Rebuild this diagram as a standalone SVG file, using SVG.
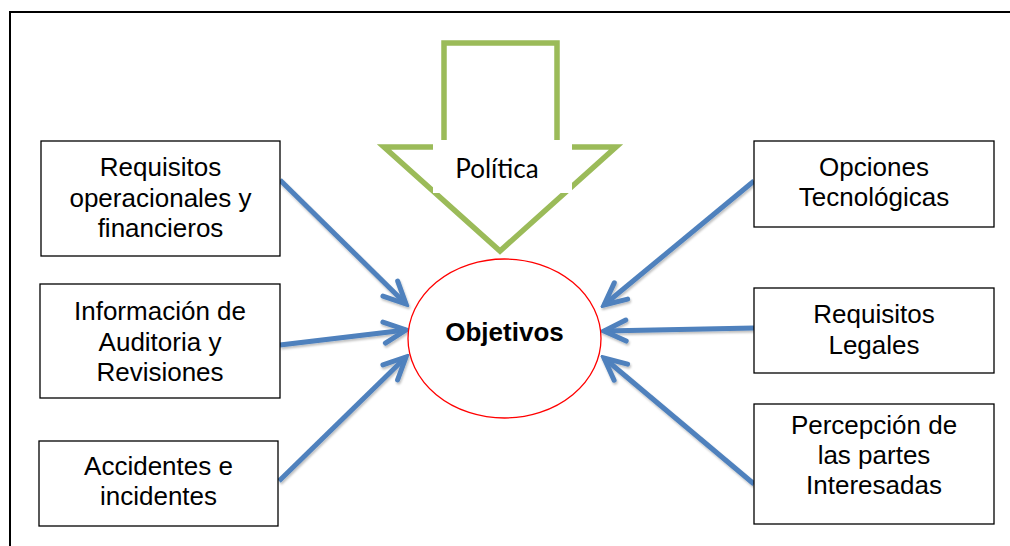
<svg xmlns="http://www.w3.org/2000/svg" width="1010" height="546" viewBox="0 0 1010 546">
<style>
.box{fill:#fff;stroke:#000;stroke-width:1.3}
.lbl{font-family:"Liberation Sans",Arial,sans-serif;font-size:26px;fill:#000;text-anchor:middle}
.conn{stroke:#4F81BD;stroke-width:5;fill:none;marker-end:url(#chev)}
</style>
<defs>
<marker id="chev" markerUnits="userSpaceOnUse" viewBox="-28 -15 32 30" refX="0" refY="0" markerWidth="32" markerHeight="30" orient="auto">
<path d="M-22,-10.5 L0,0 L-22,10.5" fill="none" stroke="#4F81BD" stroke-width="5" stroke-linecap="round" stroke-linejoin="miter"/>
</marker>
<filter id="sh" filterUnits="userSpaceOnUse" x="0" y="0" width="1010" height="546">
<feDropShadow dx="1" dy="2" stdDeviation="1.2" flood-color="#000" flood-opacity="0.25"/>
</filter>
</defs>
<rect width="1010" height="546" fill="#fff"/>
<path d="M10,546 V12 H1010" fill="none" stroke="#000" stroke-width="2"/>

<g id="politica">
<polygon points="444,43 557,43 557,147 616,147 500,251 384,147 444,147" fill="#fff" stroke="#9BBB59" stroke-width="5.5" stroke-linejoin="miter"/>
<rect x="433" y="140" width="139" height="53" fill="#fff"/>
<text x="497" y="178" style="font-family:Lato,'Open Sans',sans-serif;font-size:26px;fill:#000" text-anchor="middle">Política</text>
</g>

<g id="connectors" filter="url(#sh)">
<line class="conn" x1="280" y1="180" x2="406" y2="304"/>
<line class="conn" x1="280" y1="345" x2="406" y2="330"/>
<line class="conn" x1="279" y1="481" x2="406" y2="357"/>
<line class="conn" x1="754" y1="181" x2="604" y2="305"/>
<line class="conn" x1="754" y1="328" x2="604" y2="331"/>
<line class="conn" x1="754" y1="484" x2="604" y2="358"/>
</g>

<g id="objetivos">
<ellipse cx="504.5" cy="338.5" rx="96.5" ry="79.5" fill="#fff" stroke="#FF0000" stroke-width="1.3"/>
<text x="504.5" y="341" style="font-family:'Liberation Sans',Arial,sans-serif;font-size:26px;font-weight:bold;fill:#000" text-anchor="middle">Objetivos</text>
</g>

<g id="req-oper">
<rect class="box" x="41" y="141" width="239" height="115"/>
<text class="lbl" x="160.5" y="176">Requisitos</text>
<text class="lbl" x="160.5" y="207">operacionales y</text>
<text class="lbl" x="160.5" y="237">financieros</text>
</g>

<g id="info-auditoria">
<rect class="box" x="40" y="284" width="240" height="114"/>
<text class="lbl" x="160" y="320">Información de</text>
<text class="lbl" x="160" y="350.5">Auditoria y</text>
<text class="lbl" x="160" y="381">Revisiones</text>
</g>

<g id="accidentes">
<rect class="box" x="39" y="441" width="239" height="85"/>
<text class="lbl" x="158.5" y="475">Accidentes e</text>
<text class="lbl" x="158.5" y="505">incidentes</text>
</g>

<g id="opciones">
<rect class="box" x="754" y="141" width="240" height="86"/>
<text class="lbl" x="874" y="176">Opciones</text>
<text class="lbl" x="874" y="206">Tecnológicas</text>
</g>

<g id="req-legales">
<rect class="box" x="754" y="288" width="240" height="85"/>
<text class="lbl" x="874" y="323">Requisitos</text>
<text class="lbl" x="874" y="353.5">Legales</text>
</g>

<g id="percepcion">
<rect class="box" x="754" y="404" width="240" height="120"/>
<text class="lbl" x="874" y="434">Percepción de</text>
<text class="lbl" x="874" y="464">las partes</text>
<text class="lbl" x="874" y="494">Interesadas</text>
</g>
</svg>
